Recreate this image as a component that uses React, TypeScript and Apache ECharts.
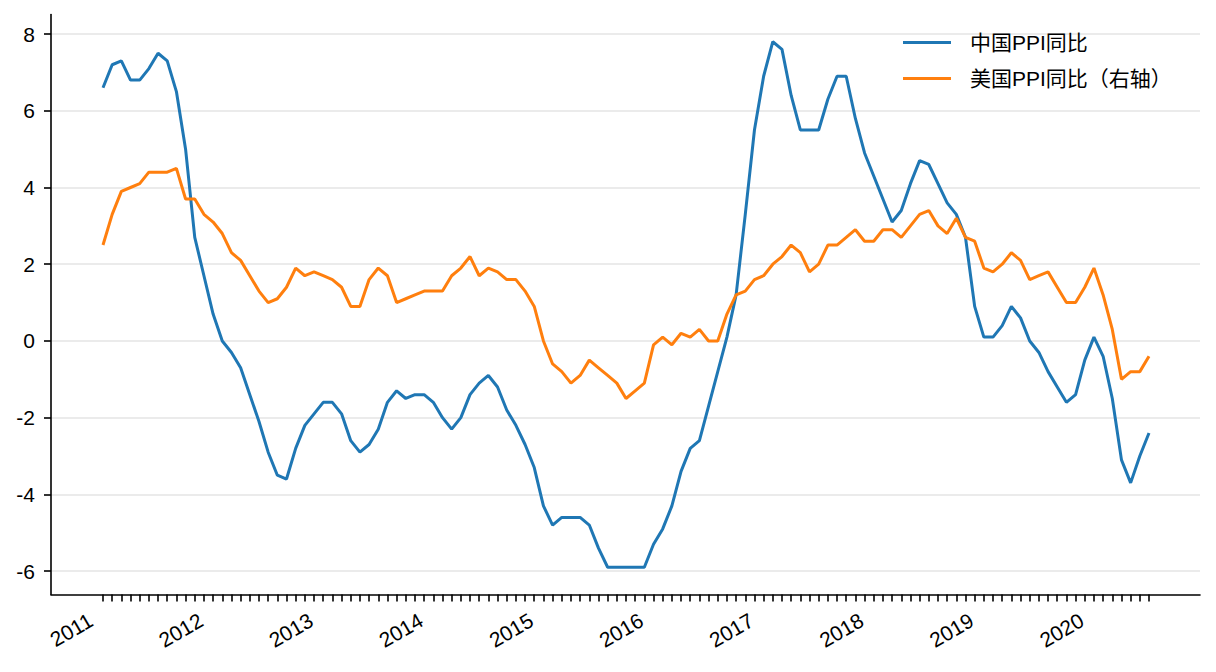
import React, { useEffect, useRef } from "react";
import * as echarts from "echarts";

// monthly labels, 2011-01 .. 2020-07
const startYear = 2011;
const monthCount = 115;
const months: string[] = [];
for (let i = 0; i < monthCount; i++) {
    const y = startYear + Math.floor(i / 12);
    const m = (i % 12) + 1;
    months.push(`${y}-${m < 10 ? "0" + m : m}`);
}

// China PPI YoY (%)
const chinaPpi = [
    6.6, 7.2, 7.3, 6.8, 6.8, 7.1, 7.5, 7.3, 6.5, 5.0, 2.7, 1.7,
    0.7, 0.0, -0.3, -0.7, -1.4, -2.1, -2.9, -3.5, -3.6, -2.8, -2.2, -1.9,
    -1.6, -1.6, -1.9, -2.6, -2.9, -2.7, -2.3, -1.6, -1.3, -1.5, -1.4, -1.4,
    -1.6, -2.0, -2.3, -2.0, -1.4, -1.1, -0.9, -1.2, -1.8, -2.2, -2.7, -3.3,
    -4.3, -4.8, -4.6, -4.6, -4.6, -4.8, -5.4, -5.9, -5.9, -5.9, -5.9, -5.9,
    -5.3, -4.9, -4.3, -3.4, -2.8, -2.6, -1.7, -0.8, 0.1, 1.2, 3.3, 5.5,
    6.9, 7.8, 7.6, 6.4, 5.5, 5.5, 5.5, 6.3, 6.9, 6.9, 5.8, 4.9,
    4.3, 3.7, 3.1, 3.4, 4.1, 4.7, 4.6, 4.1, 3.6, 3.3, 2.7, 0.9,
    0.1, 0.1, 0.4, 0.9, 0.6, 0.0, -0.3, -0.8, -1.2, -1.6, -1.4, -0.5,
    0.1, -0.4, -1.5, -3.1, -3.7, -3.0, -2.4,
];

// US PPI YoY (%), right axis
const usPpi = [
    2.5, 3.3, 3.9, 4.0, 4.1, 4.4, 4.4, 4.4, 4.5, 3.7, 3.7, 3.3,
    3.1, 2.8, 2.3, 2.1, 1.7, 1.3, 1.0, 1.1, 1.4, 1.9, 1.7, 1.8,
    1.7, 1.6, 1.4, 0.9, 0.9, 1.6, 1.9, 1.7, 1.0, 1.1, 1.2, 1.3,
    1.3, 1.3, 1.7, 1.9, 2.2, 1.7, 1.9, 1.8, 1.6, 1.6, 1.3, 0.9,
    0.0, -0.6, -0.8, -1.1, -0.9, -0.5, -0.7, -0.9, -1.1, -1.5, -1.3, -1.1,
    -0.1, 0.1, -0.1, 0.2, 0.1, 0.3, 0.0, 0.0, 0.7, 1.2, 1.3, 1.6,
    1.7, 2.0, 2.2, 2.5, 2.3, 1.8, 2.0, 2.5, 2.5, 2.7, 2.9, 2.6,
    2.6, 2.9, 2.9, 2.7, 3.0, 3.3, 3.4, 3.0, 2.8, 3.2, 2.7, 2.6,
    1.9, 1.8, 2.0, 2.3, 2.1, 1.6, 1.7, 1.8, 1.4, 1.0, 1.0, 1.4,
    1.9, 1.2, 0.3, -1.0, -0.8, -0.8, -0.4,
];

const seriesNames = ["中国PPI同比", "美国PPI同比（右轴）"];
const yMin = -6.61;
const yMax = 8.51;

const font = "'Liberation Sans', Arial, 'Noto Sans CJK SC', sans-serif";

const App = () => {
    const chartRef = useRef<HTMLDivElement>(null);

    useEffect(() => {
        if (!chartRef.current) return;
        const chart = echarts.init(chartRef.current, undefined, { renderer: "svg" });

        const option = {
            animation: false,
            backgroundColor: "#fff",
            legend: {
                orient: "vertical",
                left: 903,
                top: 32,
                padding: 0,
                icon: "rect",
                itemWidth: 48,
                itemHeight: 3,
                itemGap: 15,
                data: seriesNames,
                textStyle: {
                    fontSize: 21,
                    color: "#000",
                    fontFamily: font,
                    padding: [0, 0, 0, 14],
                },
            },
            grid: [
                // frame grid: spines, y ticks, gridlines
                { left: 51, right: 16, top: 14.5, bottom: 77.5 },
                // data grid: first/last month at the data ends
                { left: 103, right: 67, top: 14.5, bottom: 77.5 },
            ],
            xAxis: [
                {
                    gridIndex: 0,
                    type: "value",
                    min: 0,
                    max: 1,
                    axisLine: { show: true, onZero: false, lineStyle: { color: "#000", width: 1.6 } },
                    axisTick: { show: false },
                    axisLabel: { show: false },
                    splitLine: { show: false },
                },
                {
                    gridIndex: 1,
                    type: "category",
                    data: months,
                    boundaryGap: false,
                    axisLine: { show: false, onZero: false },
                    axisTick: {
                        show: true,
                        interval: 0,
                        length: 7,
                        lineStyle: { color: "#000", width: 1.6 },
                    },
                    axisLabel: {
                        interval: (i: number) => i % 12 === 0,
                        formatter: (v: string) => v.slice(0, 4),
                        rotate: 30,
                        margin: 17,
                        padding: [0, 14, 0, 0],
                        fontSize: 21,
                        color: "#000",
                        fontFamily: font,
                    },
                    splitLine: { show: false },
                },
            ],
            yAxis: [
                {
                    gridIndex: 0,
                    type: "value",
                    min: yMin,
                    max: yMax,
                    splitNumber: 7,
                    axisLine: { show: true, onZero: false, lineStyle: { color: "#000", width: 1.6 } },
                    axisTick: { show: true, length: 7, lineStyle: { color: "#000", width: 1.6 } },
                    axisLabel: {
                        showMinLabel: false,
                        showMaxLabel: false,
                        margin: 16,
                        fontSize: 21,
                        color: "#000",
                        fontFamily: font,
                    },
                    splitLine: {
                        show: true,
                        showMinLine: false,
                        showMaxLine: false,
                        lineStyle: { color: "#e5e5e5", width: 1.6 },
                    },
                },
                { gridIndex: 1, type: "value", min: yMin, max: yMax, show: false },
            ],
            series: [
                {
                    name: seriesNames[0],
                    type: "line",
                    xAxisIndex: 1,
                    yAxisIndex: 1,
                    data: chinaPpi,
                    symbol: "none",
                    lineStyle: { width: 3, color: "#1f77b4" },
                    itemStyle: { color: "#1f77b4" },
                },
                {
                    name: seriesNames[1],
                    type: "line",
                    xAxisIndex: 1,
                    yAxisIndex: 1,
                    data: usPpi,
                    symbol: "none",
                    lineStyle: { width: 3, color: "#ff7f0e" },
                    itemStyle: { color: "#ff7f0e" },
                },
            ],
        };

        chart.setOption(option);
        return () => {
            chart.dispose();
        };
    }, []);

    return (
        <div
            ref={chartRef}
            style={{ position: "fixed", left: 0, top: 0, width: "1216px", height: "672px" }}
        />
    );
};

export default App;
